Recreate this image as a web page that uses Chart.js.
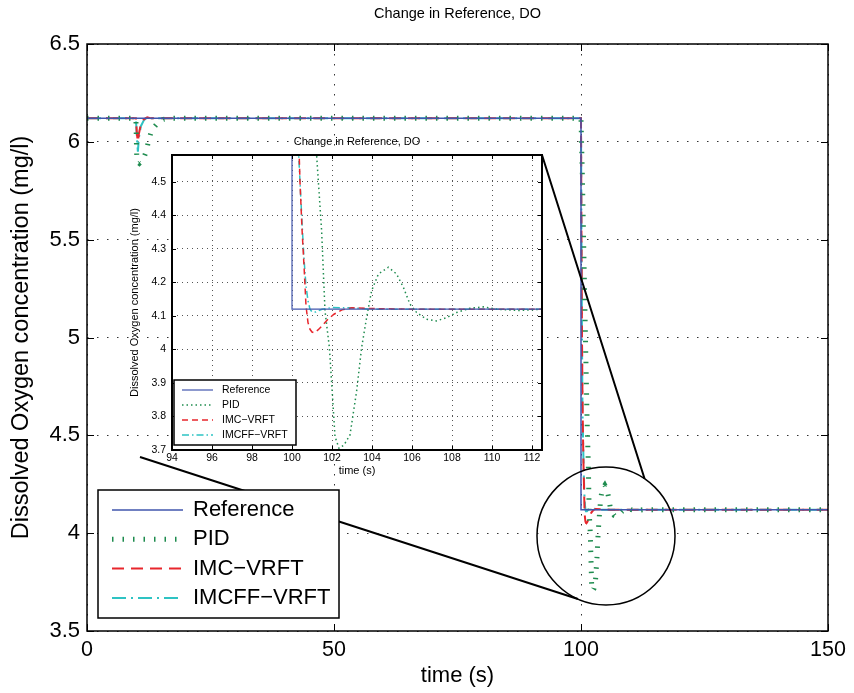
<!DOCTYPE html>
<html>
<head>
<meta charset="utf-8">
<title>Change in Reference, DO</title>
<script src="https://cdn.jsdelivr.net/npm/chart.js@4.4.1/dist/chart.umd.min.js"></script>
<style>
  html, body { margin: 0; padding: 0; background: #fff; }
  #wrap  { position: relative; width: 854px; height: 693px; }
  #main  { position: absolute; left: 0; top: 0; }
  #inset { position: absolute; left: 110px; top: 128px; }
</style>
</head>
<body>
<div id="wrap">
  <canvas id="main" width="854" height="693"></canvas>
  <canvas id="inset" width="440" height="360"></canvas>
</div>
<script>
// ── data ─────────────────────────────────────────────────────────────────────
const TITLE   = 'Change in Reference, DO';
const X_LABEL = 'time (s)';
const Y_LABEL = 'Dissolved Oxygen concentration (mg/l)';
const NAMES   = ['Reference', 'PID', 'IMC\u2212VRFT', 'IMCFF\u2212VRFT'];

const refT = [0, 100, 100, 150];
const refY = [6.12, 6.12, 4.12, 4.12];

const pidT = [0, 9.9, 10.0, 10.1, 10.6, 11.4, 12.1, 12.4, 13.1, 14.4, 15.5, 17,
  100, 100.3, 100.6, 100.9, 101.1, 101.23, 101.48, 101.65, 101.87, 102.03, 102.15, 102.35,
  102.6, 102.9, 103.23, 103.48, 103.73, 103.98, 104.32, 104.82, 105.23, 105.57, 105.9,
  106.23, 106.73, 107.23, 107.73, 108.23, 108.9, 109.57, 110.23, 111.3, 112.5, 150];
const pidY = [6.12, 6.12, 6.0, 5.9, 5.89, 5.91, 5.96, 6.0, 6.06, 6.10, 6.115, 6.12,
  6.12, 5.8, 5.4, 5.0, 4.75, 4.58, 4.355, 4.115, 4.005, 3.855, 3.74, 3.705,
  3.715, 3.745, 3.875, 4.005, 4.095, 4.175, 4.225, 4.245, 4.225, 4.185, 4.135,
  4.11, 4.09, 4.085, 4.095, 4.11, 4.123, 4.127, 4.12, 4.116, 4.12, 4.12];

const imcT = [0, 9.9, 10.1, 10.3, 10.5, 10.9, 11.5, 12.2, 13,
  100, 100.1, 100.2, 100.3, 100.4, 100.5, 100.6, 100.7, 100.8, 100.9, 101.0, 101.1,
  101.3, 101.5, 101.8, 102.1, 102.5, 103, 104, 106, 150];
const imcY = [6.12, 6.12, 6.04, 6.0, 6.04, 6.09, 6.115, 6.125, 6.12,
  6.12, 5.5, 5.0, 4.7, 4.5, 4.36, 4.25, 4.13, 4.08, 4.06, 4.052, 4.05,
  4.058, 4.07, 4.09, 4.105, 4.118, 4.124, 4.122, 4.12, 4.12];

const ffT = [0, 9.9, 10.1, 10.3, 10.5, 10.9, 11.5, 12.2, 13,
  100, 100.1, 100.2, 100.3, 100.4, 100.5, 100.6, 100.7, 100.8, 100.9, 101.0, 101.2,
  101.5, 102, 103, 104, 150];
const ffY = [6.12, 6.12, 6.02, 5.95, 6.02, 6.08, 6.11, 6.125, 6.12,
  6.12, 5.5, 4.98, 4.62, 4.5, 4.38, 4.27, 4.19, 4.145, 4.12, 4.112, 4.112,
  4.12, 4.125, 4.124, 4.12, 4.12];

// zoomed region marked on the main axes (data units)
const ZOOM_CENTER = [105.06, 3.986];

// ── styling ──────────────────────────────────────────────────────────────────
const FONT  = '"Liberation Sans", Arial, Helvetica, sans-serif';
const BLUE  = '#4156ad';
const GREEN = '#1f8c4f';
const RED   = '#e8262c';
const CYAN  = '#2ec3c3';

Chart.defaults.font.family = FONT;
Chart.defaults.color = '#000';

const pts = (t, v) => t.map((x, i) => ({ x, y: v[i] }));

function makeDatasets(st) {
  const series = [[refT, refY, BLUE], [pidT, pidY, GREEN], [imcT, imcY, RED], [ffT, ffY, CYAN]];
  return series.map(([t, v, c], i) => ({
    label: NAMES[i],
    data: pts(t, v),
    borderColor: c,
    borderWidth: st[i].w,
    borderDash: st[i].dash,
    borderCapStyle: 'butt',
    pointRadius: 0,
    tension: 0,
    fill: false,
  }));
}

// box round the axes + inward tick marks on all four sides (matlab look)
const axesBox = {
  id: 'axesBox',
  beforeDraw(chart, args, o) {
    if (!o.fill) return;
    const a = chart.chartArea;
    chart.ctx.save();
    chart.ctx.fillStyle = '#fff';
    chart.ctx.fillRect(a.left, a.top, a.right - a.left, a.bottom - a.top);
    chart.ctx.restore();
  },
  afterDatasetsDraw(chart, args, o) {
    const { ctx, chartArea: a, scales: { x, y } } = chart;
    ctx.save();
    ctx.strokeStyle = '#000';
    ctx.lineWidth = 1;
    ctx.beginPath();
    x.ticks.forEach(t => {
      const px = Math.round(x.getPixelForValue(t.value)) + 0.5;
      ctx.moveTo(px, a.bottom); ctx.lineTo(px, a.bottom - o.tick);
      ctx.moveTo(px, a.top);    ctx.lineTo(px, a.top + o.tick);
    });
    y.ticks.forEach(t => {
      const py = Math.round(y.getPixelForValue(t.value)) + 0.5;
      ctx.moveTo(a.left, py);  ctx.lineTo(a.left + o.tick, py);
      ctx.moveTo(a.right, py); ctx.lineTo(a.right - o.tick, py);
    });
    ctx.stroke();
    ctx.lineWidth = o.width;
    ctx.strokeRect(a.left, a.top, a.right - a.left, a.bottom - a.top);
    ctx.restore();
  },
};

// boxed legend drawn inside the axes (bottom-left corner)
const boxLegend = {
  id: 'boxLegend',
  afterDraw(chart, args, o) {
    const { ctx, chartArea: a } = chart;
    const x0 = a.left + o.left;
    const y0 = a.bottom - o.bottom - o.height;
    ctx.save();
    ctx.fillStyle = '#fff';
    ctx.fillRect(x0, y0, o.width, o.height);
    ctx.lineWidth = o.borderWidth;
    ctx.strokeStyle = '#000';
    ctx.strokeRect(x0, y0, o.width, o.height);
    ctx.font = o.font;
    ctx.textBaseline = 'middle';
    chart.data.datasets.forEach((ds, i) => {
      const yy = y0 + o.firstRow + i * o.rowGap;
      ctx.beginPath();
      ctx.setLineDash(ds.borderDash || []);
      ctx.lineWidth = ds.borderWidth;
      ctx.strokeStyle = ds.borderColor;
      ctx.moveTo(x0 + o.lineStart, yy);
      ctx.lineTo(x0 + o.lineEnd, yy);
      ctx.stroke();
      ctx.setLineDash([]);
      ctx.fillStyle = '#000';
      ctx.fillText(ds.label, x0 + o.textX, yy);
    });
    ctx.restore();
  },
};

// circle round the zoomed region + the two lines out to the inset
const zoomNote = {
  id: 'zoomNote',
  afterDraw(chart, args, o) {
    const { ctx, scales: { x, y } } = chart;
    const inset = Chart.getChart('inset');
    if (!inset) return;
    const cx = x.getPixelForValue(o.center[0]);
    const cy = y.getPixelForValue(o.center[1]);
    const mb = chart.canvas.getBoundingClientRect();
    const ib = inset.canvas.getBoundingClientRect();
    const dx = ib.left - mb.left, dy = ib.top - mb.top;
    const ia = inset.chartArea;
    const onCircle = deg => [cx + o.radius * Math.cos(deg * Math.PI / 180),
                             cy + o.radius * Math.sin(deg * Math.PI / 180)];
    ctx.save();
    ctx.strokeStyle = '#000';
    ctx.lineWidth = 1.5;
    ctx.beginPath();
    ctx.arc(cx, cy, o.radius, 0, Math.PI * 2);
    ctx.stroke();
    ctx.lineWidth = 2;
    ctx.beginPath();
    let p = onCircle(-56);
    ctx.moveTo(ia.right + dx, ia.top + dy);
    ctx.lineTo(p[0], p[1]);
    p = onCircle(114);
    ctx.moveTo(ia.left + dx - 32, ia.bottom + dy + 7);
    ctx.lineTo(p[0], p[1]);
    ctx.stroke();
    ctx.restore();
  },
};

const numLabel = v => String(Number(v.toFixed(2)));

// ── inset (zoom on the step at t = 100 s) ────────────────────────────────────
new Chart(document.getElementById('inset'), {
  type: 'line',
  data: {
    datasets: makeDatasets([
      { w: 1.2, dash: [] },
      { w: 1.5, dash: [1.5, 3] },
      { w: 1.5, dash: [6, 4] },
      { w: 1.5, dash: [7, 3, 1.5, 3] },
    ]),
  },
  options: {
    responsive: false,
    animation: false,
    devicePixelRatio: 1,
    layout: { padding: { left: 0, right: 8, top: 0, bottom: 0 } },
    plugins: {
      legend:  { display: false },
      tooltip: { enabled: false },
      title: {
        display: true, text: TITLE, fullSize: false,
        font: { size: 11, weight: 'normal' },
        padding: { top: 7.4, bottom: 6.4 },
      },
      axesBox: { tick: 4, width: 2, fill: true },
      boxLegend: {
        left: 2, bottom: 5, width: 122, height: 65, borderWidth: 1.5,
        firstRow: 10, rowGap: 15, lineStart: 8, lineEnd: 39, textX: 48,
        font: '10.5px ' + FONT,
      },
    },
    scales: {
      x: {
        type: 'linear', min: 94, max: 112.5,
        afterFit: s => { s.height = 38; },
        ticks: { stepSize: 2, includeBounds: false, padding: 2, font: { size: 10.5 }, maxRotation: 0 },
        grid:  { color: '#555', lineWidth: 1, drawTicks: false },
        border: { display: false, dash: [1, 4] },
        title: { display: true, text: X_LABEL, font: { size: 11 }, padding: { top: 0, bottom: 10.4 } },
      },
      y: {
        type: 'linear', min: 3.7, max: 4.58,
        afterFit: s => { s.width = 62; },
        ticks: { stepSize: 0.1, includeBounds: false, padding: 6, font: { size: 10.5 }, callback: numLabel },
        grid:  { color: '#555', lineWidth: 1, drawTicks: false },
        border: { display: false, dash: [1, 4] },
        title: { display: true, text: Y_LABEL, font: { size: 11 }, padding: { top: 18.4, bottom: 0 } },
      },
    },
  },
  plugins: [axesBox, boxLegend],
});

// ── main axes ────────────────────────────────────────────────────────────────
new Chart(document.getElementById('main'), {
  type: 'line',
  data: {
    datasets: makeDatasets([
      { w: 1.5, dash: [] },
      { w: 5,   dash: [1.5, 9] },
      { w: 2,   dash: [12, 7] },
      { w: 2,   dash: [14, 5, 2, 5] },
    ]),
  },
  options: {
    responsive: false,
    animation: false,
    devicePixelRatio: 1,
    layout: { padding: { left: 0, right: 26, top: 0, bottom: 0 } },
    plugins: {
      legend:  { display: false },
      tooltip: { enabled: false },
      title: {
        display: true, text: TITLE, fullSize: false,
        font: { size: 14.5, weight: 'normal' },
        padding: { top: 5, bottom: 21.6 },
      },
      axesBox: { tick: 7, width: 1.5, fill: false },
      zoomNote: { center: ZOOM_CENTER, radius: 69 },
      boxLegend: {
        left: 11, bottom: 13, width: 241, height: 128, borderWidth: 1.5,
        firstRow: 20, rowGap: 29.3, lineStart: 14, lineEnd: 85, textX: 95,
        font: '22px ' + FONT,
      },
    },
    scales: {
      x: {
        type: 'linear', min: 0, max: 150,
        afterFit: s => { s.height = 62; },
        ticks: { stepSize: 50, padding: 6, font: { size: 21.5 }, maxRotation: 0 },
        grid:  { color: '#333', lineWidth: 1, drawTicks: false },
        border: { display: false, dash: [1.5, 8.5] },
        title: { display: true, text: X_LABEL, font: { size: 22 }, padding: { top: 0, bottom: 3.8 } },
      },
      y: {
        type: 'linear', min: 3.5, max: 6.5,
        afterFit: s => { s.width = 87; },
        ticks: { stepSize: 0.5, padding: 7, font: { size: 22 }, callback: numLabel },
        grid:  { color: '#333', lineWidth: 1, drawTicks: false },
        border: { display: false, dash: [1.5, 8.5] },
        title: { display: true, text: Y_LABEL, font: { size: 23.5 }, padding: { top: 7.9, bottom: 0 } },
      },
    },
  },
  plugins: [axesBox, zoomNote, boxLegend],
});
</script>
</body>
</html>
